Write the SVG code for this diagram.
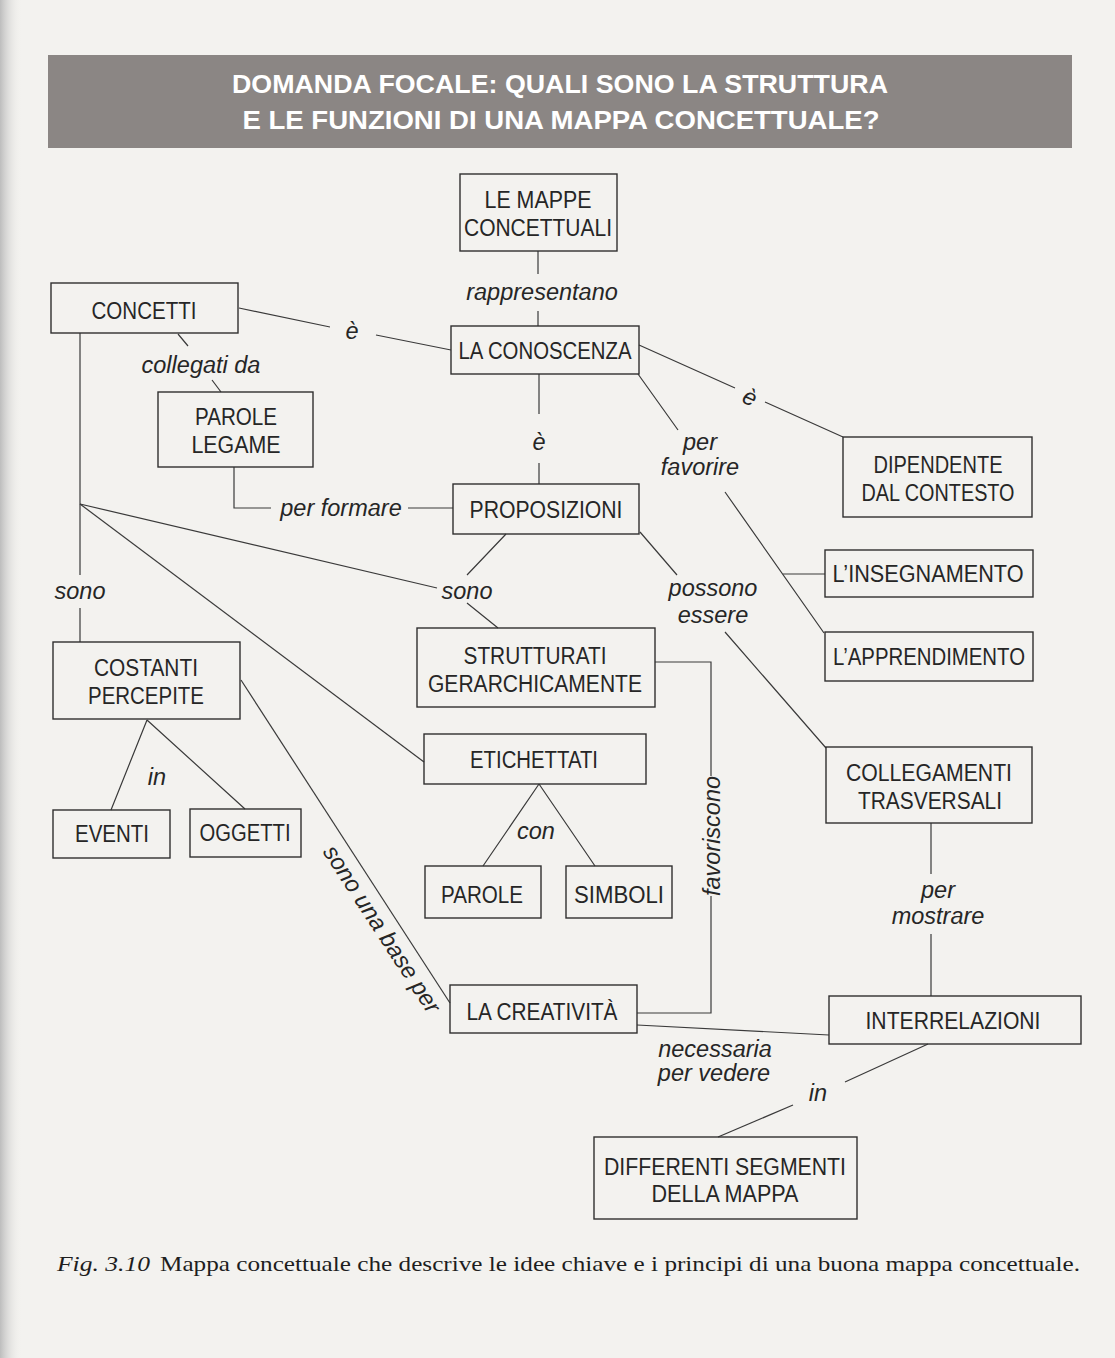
<svg xmlns="http://www.w3.org/2000/svg" width="1115" height="1358" viewBox="0 0 1115 1358">
<defs>
<linearGradient id="edge" x1="0" y1="0" x2="1" y2="0">
<stop offset="0" stop-color="#bdbdbd"/>
<stop offset="1" stop-color="#f3f2ef" stop-opacity="0"/>
</linearGradient>
<style>
.box{fill:none;stroke:#2f2f2f;stroke-width:1.4}
.nt{font-family:"Liberation Sans",Arial,sans-serif;font-size:23px;fill:#262626;text-anchor:middle}
.lb{font-family:"Liberation Sans",Arial,sans-serif;font-style:italic;font-size:23.5px;fill:#262626;text-anchor:middle}
.ln{fill:none;stroke:#3a3a3a;stroke-width:1.2}
.hd{font-family:"Liberation Sans",Arial,sans-serif;font-weight:bold;font-size:26px;fill:#ffffff;text-anchor:middle}
.cap{font-family:"Liberation Serif","Times New Roman",serif;font-size:21.5px;fill:#1e1e1e}
</style>
</defs>
<rect x="0" y="0" width="1115" height="1358" fill="#f3f2ef"/>
<rect x="0" y="0" width="22" height="1358" fill="url(#edge)"/>

<g id="header">
<rect x="48" y="55" width="1024" height="93" fill="#8b8684"/>
<text class="hd" x="560" y="93" textLength="656" lengthAdjust="spacingAndGlyphs">DOMANDA FOCALE: QUALI SONO LA STRUTTURA</text>
<text class="hd" x="561" y="129" textLength="637" lengthAdjust="spacingAndGlyphs">E LE FUNZIONI DI UNA MAPPA CONCETTUALE?</text>
</g>

<g id="connectors">
<path class="ln" d="M538,251 V274 M538,311 V326"/>
<path class="ln" d="M239,308 L330,327 M376,335 L451,350"/>
<path class="ln" d="M178,334 L188,346 M212,380 L221,392"/>
<path class="ln" d="M80,333 V575 M80,608 V642"/>
<path class="ln" d="M80,504 L437,588"/>
<path class="ln" d="M80,504 L424,762"/>
<path class="ln" d="M506,534 L467,575 M467,603 L498,628"/>
<path class="ln" d="M234,467 V508 H271 M408,508 H453"/>
<path class="ln" d="M539,374 V414 M539,463 V484"/>
<path class="ln" d="M639,345 L735,388 M765,402 L843,437"/>
<path class="ln" d="M638,374 L678,430 M725,492 L824,633"/>
<path class="ln" d="M783,574 H825"/>
<path class="ln" d="M640,532 L677,575 M725,632 L826,748"/>
<path class="ln" d="M655,662 H711 V776 M711,896 V1013 H637"/>
<path class="ln" d="M147,720 L111,810 M147,720 L245,809"/>
<path class="ln" d="M241,680 L450,1003"/>
<path class="ln" d="M539,784 L483,866 M539,784 L595,866"/>
<path class="ln" d="M931,823 V874 M931,934 V996"/>
<path class="ln" d="M637,1025 L829,1035"/>
<path class="ln" d="M845,1082 L928,1044"/>
<path class="ln" d="M793,1105 L718,1137"/>
</g>

<g id="labels">
<text class="lb" x="542" y="300">rappresentano</text>
<text class="lb" x="352" y="339">è</text>
<text class="lb" x="201" y="373">collegati da</text>
<text class="lb" x="539" y="450">è</text>
<text class="lb" transform="translate(750,397) rotate(24)" x="0" y="8">è</text>
<text class="lb" x="700" y="450">per</text>
<text class="lb" x="700" y="475">favorire</text>
<text class="lb" x="341" y="516">per formare</text>
<text class="lb" x="80" y="599">sono</text>
<text class="lb" x="467" y="599">sono</text>
<text class="lb" x="713" y="596">possono</text>
<text class="lb" x="713" y="623">essere</text>
<text class="lb" x="157" y="785">in</text>
<text class="lb" x="536" y="839">con</text>
<text class="lb" transform="translate(712,836) rotate(-90)" x="0" y="8">favoriscono</text>
<text class="lb" transform="translate(382,929) rotate(57)" x="0" y="8">sono una base per</text>
<text class="lb" x="938" y="898">per</text>
<text class="lb" x="938" y="924">mostrare</text>
<text class="lb" x="715" y="1057">necessaria</text>
<text class="lb" x="714" y="1081">per vedere</text>
<text class="lb" x="818" y="1101">in</text>
</g>

<g id="n-mappe"><rect class="box" x="460" y="174" width="157" height="77"/><text class="nt" x="538" y="208" textLength="107" lengthAdjust="spacingAndGlyphs">LE MAPPE</text><text class="nt" x="538" y="236" textLength="148" lengthAdjust="spacingAndGlyphs">CONCETTUALI</text></g>
<g id="n-concetti"><rect class="box" x="51" y="283" width="187" height="50"/><text class="nt" x="144" y="319" textLength="105" lengthAdjust="spacingAndGlyphs">CONCETTI</text></g>
<g id="n-conoscenza"><rect class="box" x="451" y="326" width="188" height="48"/><text class="nt" x="545" y="359" textLength="173" lengthAdjust="spacingAndGlyphs">LA CONOSCENZA</text></g>
<g id="n-parole-legame"><rect class="box" x="158" y="392" width="155" height="75"/><text class="nt" x="236" y="425" textLength="82" lengthAdjust="spacingAndGlyphs">PAROLE</text><text class="nt" x="236" y="453" textLength="89" lengthAdjust="spacingAndGlyphs">LEGAME</text></g>
<g id="n-proposizioni"><rect class="box" x="453" y="484" width="186" height="50"/><text class="nt" x="546" y="518" textLength="153" lengthAdjust="spacingAndGlyphs">PROPOSIZIONI</text></g>
<g id="n-dipendente"><rect class="box" x="843" y="437" width="189" height="80"/><text class="nt" x="938" y="473" textLength="129" lengthAdjust="spacingAndGlyphs">DIPENDENTE</text><text class="nt" x="938" y="501" textLength="153" lengthAdjust="spacingAndGlyphs">DAL CONTESTO</text></g>
<g id="n-insegnamento"><rect class="box" x="825" y="550" width="208" height="47"/><text class="nt" x="928" y="582" textLength="191" lengthAdjust="spacingAndGlyphs">L’INSEGNAMENTO</text></g>
<g id="n-apprendimento"><rect class="box" x="825" y="632" width="208" height="49"/><text class="nt" x="929" y="665" textLength="192" lengthAdjust="spacingAndGlyphs">L’APPRENDIMENTO</text></g>
<g id="n-strutturati"><rect class="box" x="417" y="628" width="238" height="79"/><text class="nt" x="535" y="664" textLength="143" lengthAdjust="spacingAndGlyphs">STRUTTURATI</text><text class="nt" x="535" y="692" textLength="214" lengthAdjust="spacingAndGlyphs">GERARCHICAMENTE</text></g>
<g id="n-costanti"><rect class="box" x="53" y="642" width="187" height="77"/><text class="nt" x="146" y="676" textLength="104" lengthAdjust="spacingAndGlyphs">COSTANTI</text><text class="nt" x="146" y="704" textLength="116" lengthAdjust="spacingAndGlyphs">PERCEPITE</text></g>
<g id="n-etichettati"><rect class="box" x="424" y="734" width="222" height="50"/><text class="nt" x="534" y="768" textLength="128" lengthAdjust="spacingAndGlyphs">ETICHETTATI</text></g>
<g id="n-collegamenti"><rect class="box" x="826" y="747" width="206" height="76"/><text class="nt" x="929" y="781" textLength="166" lengthAdjust="spacingAndGlyphs">COLLEGAMENTI</text><text class="nt" x="930" y="809" textLength="144" lengthAdjust="spacingAndGlyphs">TRASVERSALI</text></g>
<g id="n-eventi"><rect class="box" x="53" y="810" width="117" height="48"/><text class="nt" x="112" y="842" textLength="74" lengthAdjust="spacingAndGlyphs">EVENTI</text></g>
<g id="n-oggetti"><rect class="box" x="190" y="809" width="111" height="48"/><text class="nt" x="245" y="841" textLength="91" lengthAdjust="spacingAndGlyphs">OGGETTI</text></g>
<g id="n-parole"><rect class="box" x="425" y="866" width="116" height="52"/><text class="nt" x="482" y="903" textLength="82" lengthAdjust="spacingAndGlyphs">PAROLE</text></g>
<g id="n-simboli"><rect class="box" x="566" y="866" width="106" height="52"/><text class="nt" x="619" y="903" textLength="90" lengthAdjust="spacingAndGlyphs">SIMBOLI</text></g>
<g id="n-creativita"><rect class="box" x="450" y="985" width="187" height="48"/><text class="nt" x="542" y="1020" textLength="151" lengthAdjust="spacingAndGlyphs">LA CREATIVITÀ</text></g>
<g id="n-interrelazioni"><rect class="box" x="829" y="996" width="252" height="48"/><text class="nt" x="953" y="1029" textLength="175" lengthAdjust="spacingAndGlyphs">INTERRELAZIONI</text></g>
<g id="n-differenti"><rect class="box" x="594" y="1137" width="263" height="82"/><text class="nt" x="725" y="1175" textLength="242" lengthAdjust="spacingAndGlyphs">DIFFERENTI SEGMENTI</text><text class="nt" x="725" y="1202" textLength="147" lengthAdjust="spacingAndGlyphs">DELLA MAPPA</text></g>

<g id="caption">
<text class="cap" x="57" y="1271" font-style="italic" textLength="93" lengthAdjust="spacingAndGlyphs">Fig. 3.10</text>
<text class="cap" x="160" y="1271" textLength="920" lengthAdjust="spacingAndGlyphs">Mappa concettuale che descrive le idee chiave e i principi di una buona mappa concettuale.</text>
</g>
</svg>
